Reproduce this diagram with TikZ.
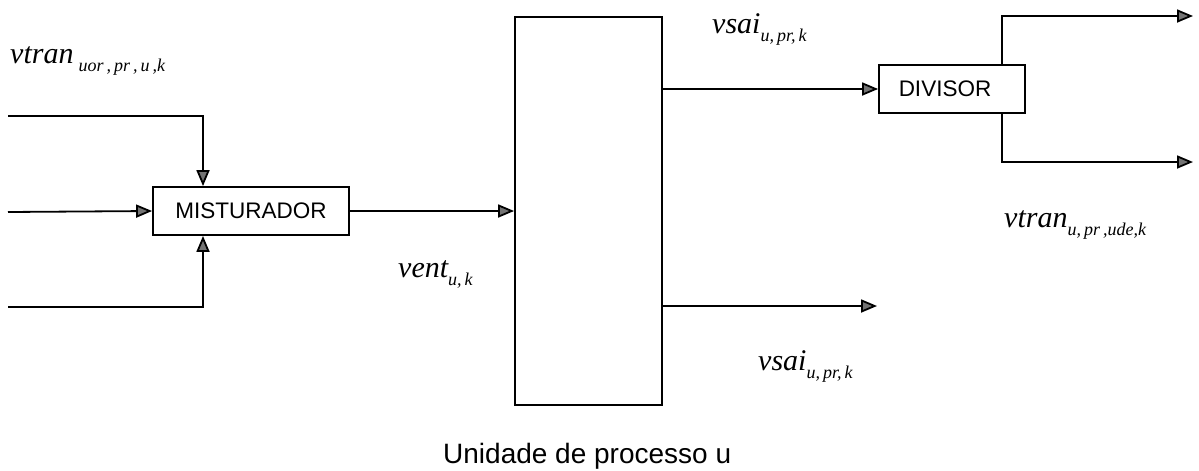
\documentclass[tikz,border=0pt]{standalone}
\usepackage{fontspec}
\setmainfont{Liberation Serif}
\setsansfont{Liberation Sans}
\usetikzlibrary{arrows.meta}
\newcommand\lowidx[1]{\raisebox{-8pt}{\fontsize{18}{18}\selectfont\itshape #1}}
\begin{document}
\begin{tikzpicture}[x=1pt, y=-1pt,
  blockbox/.style={draw, line width=1.8pt, rectangle, inner sep=0pt,
    font=\sffamily\fontsize{22.5}{22.5}\selectfont},
  flow/.style={line width=1.8pt,
    -{Triangle[length=16pt, width=13pt, fill=black!55]}},
  lab/.style={anchor=base west, inner sep=0pt,
    font=\fontsize{30}{30}\selectfont\itshape}]
\useasboundingbox (0,0) rectangle (1199,471);

% blocks
\node[blockbox, minimum width=196pt, minimum height=48pt] (mix) at (251,211) {MISTURADOR};
\node[blockbox, minimum width=147pt, minimum height=388pt] (unit) at (588.5,211) {};
\node[blockbox, minimum width=146pt, minimum height=48pt] (div) at (952,89) {\hspace*{-14pt}DIVISOR};

% free ends and junction columns
\coordinate (in1) at (8,116);
\coordinate (in2) at (8,212);
\coordinate (in3) at (8,307);
\coordinate (jmix) at (203,0);
\coordinate (jdiv) at (1002,0);
\coordinate (out1) at (1193,16);
\coordinate (out2) at (1193,162);
\coordinate (out3) at (877,306);

% mixer inputs
\draw[flow] (in1) -| (jmix |- mix.north);
\draw[flow] (in2) -- (mix.west);
\draw[flow] (in3) -| (jmix |- mix.south);

% process unit
\draw[flow] (mix.east) -- (mix.east -| unit.west);
\draw[flow] (unit.east |- div.west) -- (div.west);
\draw[flow] (unit.east |- out3) -- (out3);

% splitter outputs
\draw[flow] (jdiv |- div.north) |- (out1);
\draw[flow] (jdiv |- div.south) |- (out2);

% stream labels
\node[lab] (lvtranin) at (10,63) {vtran\,\lowidx{uor\,,\,pr\,,\,u\,,k}};
\node[lab] (lvsaitop) at (712,33) {vsai\lowidx{u,\,pr,\,k}};
\node[lab] (lvent) at (398,277) {vent\lowidx{u,\,k}};
\node[lab] (lvsaibot) at (758,370) {vsai\lowidx{u,\,pr,\,k}};
\node[lab] (lvtranout) at (1004,227) {vtran\lowidx{u,\,pr\,,ude,k}};

\node[anchor=base west, inner sep=0pt, font=\sffamily\fontsize{28}{28}\selectfont] (cap) at (443,463) {Unidade de processo u};
\end{tikzpicture}
\end{document}
